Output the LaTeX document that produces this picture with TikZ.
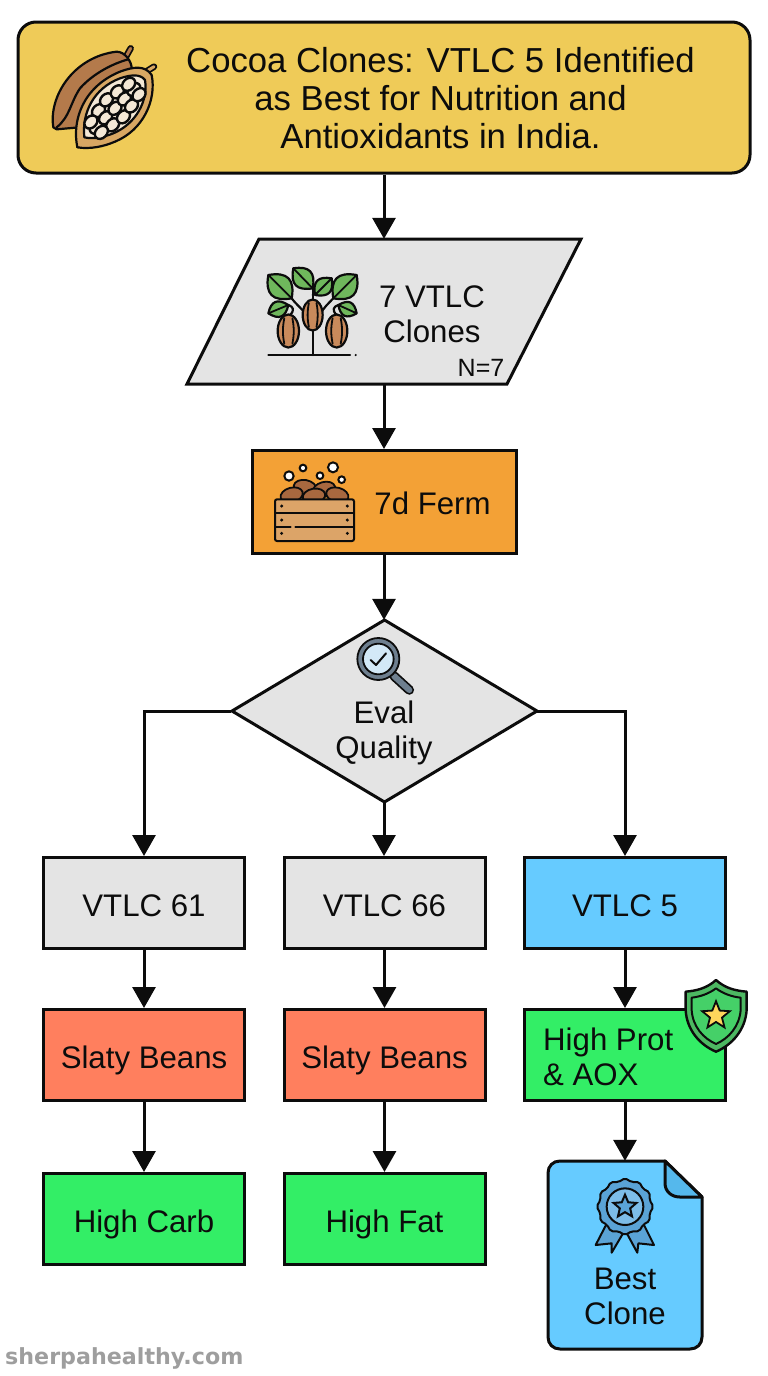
\documentclass[tikz,border=0pt]{standalone}
\usepackage{fontspec}
\setmainfont{Liberation Sans}
\newfontfamily\wmfont{DejaVu Sans}
\usetikzlibrary{arrows.meta,shapes.geometric}
\definecolor{ttl}{HTML}{EFCB58}
\definecolor{gry}{HTML}{E4E4E4}
\definecolor{org}{HTML}{F3A136}
\definecolor{blu}{HTML}{66CBFF}
\definecolor{red1}{HTML}{FF7F5E}
\definecolor{grn}{HTML}{33EE66}
\definecolor{ink}{HTML}{0C0C0C}
\definecolor{podA}{HTML}{B47A4B}
\definecolor{podB}{HTML}{D8A763}
\definecolor{crm}{HTML}{F4E8D6}
\definecolor{leafc}{HTML}{6FB75C}
\definecolor{podC}{HTML}{C98A5B}
\definecolor{crate}{HTML}{DCA468}
\definecolor{bean}{HTML}{A8683F}
\definecolor{ringc}{HTML}{6E7F8F}
\definecolor{glass}{HTML}{D3E9F7}
\definecolor{shA}{HTML}{4DB862}
\definecolor{shB}{HTML}{45D068}
\definecolor{starc}{HTML}{FFD65C}
\definecolor{badA}{HTML}{5AA3D6}
\definecolor{badB}{HTML}{7DBDE8}
\definecolor{foldc}{HTML}{55B8EC}
\tikzset{
  x=1pt,y=-1pt,
  box/.style={draw=ink,line width=3pt,rectangle,minimum width=201pt,minimum height=91pt,inner sep=0pt,text=ink,font=\fontsize{31.2}{35}\selectfont,align=center,text height=27pt,text depth=0pt},
  ghost/.style={rectangle,inner sep=0pt,text=ink,font=\fontsize{31.2}{35}\selectfont,align=center},
  flow/.style={draw=ink,line width=3pt,-{Triangle[length=21pt,width=23pt]}},
  icon/.style={draw=ink,line width=2.2pt,line join=round,line cap=round},
  thin line/.style={draw=ink,line width=1.8pt,line cap=round},
}
\newcommand{\zleaf}[4]{%
  \draw[icon,fill=leafc] (#1,#2) to[bend left=55,looseness=1.5] (#3,#4) to[bend left=55,looseness=1.5] (#1,#2);
  \draw[thin line] (#1,#2) -- (#3,#4);}
\newcommand{\zpod}[3]{%
  \draw[icon,fill=podC] (#1,#2) ellipse (#3 and 1.55*#3);
  \draw[thin line] (#1-0.38*#3,#2-1.2*#3) .. controls (#1-0.55*#3,#2-0.3*#3) and (#1-0.55*#3,#2+0.3*#3) .. (#1-0.38*#3,#2+1.2*#3);
  \draw[thin line] (#1+0.38*#3,#2-1.2*#3) .. controls (#1+0.55*#3,#2-0.3*#3) and (#1+0.55*#3,#2+0.3*#3) .. (#1+0.38*#3,#2+1.2*#3);}
\begin{document}
\begin{tikzpicture}
\useasboundingbox (0,0) rectangle (768,1376);
% title
\node[box,fill=ttl,rounded corners=18pt,minimum width=732pt,minimum height=151pt] (title) at (384,97.5) {};
\node[ghost,font=\fontsize{34.7}{38}\selectfont] (titletext) at (440.5,98.5) {Cocoa Clones: VTLC 5 Identified\\as Best for Nutrition and\\Antioxidants in India.};
% parallelogram
\node[rectangle,minimum width=394pt,minimum height=145pt,inner sep=0pt] (clones) at (384,311.5) {};
\draw[draw=ink,line width=3pt,fill=gry,line join=miter] (259,239) -- (581,239) -- (507,384) -- (187,384) -- cycle;
\node[ghost] (clonestext) at (432,314) {7 VTLC\\Clones};
\node[ghost,font=\fontsize{25}{28}\selectfont] (ntext) at (481,368) {N=7};
% ferm
\node[box,fill=org,minimum width=264pt,minimum height=103pt] (ferm) at (384.5,502) {};
\node[ghost] (fermtext) at (432.5,503) {7d Ferm};
% diamond
\node[rectangle,minimum width=305pt,minimum height=182pt,inner sep=0pt] (eval) at (384,711) {};
\draw[draw=ink,line width=3pt,fill=gry,line join=miter] (232,711) -- (384.5,620) -- (537,711) -- (384.5,802) -- cycle;
\node[ghost] (evaltext) at (384,733) {Eval\\Quality};
% row 1
\node[box,fill=gry] (v61) at (144,903) {VTLC 61};
\node[box,fill=gry] (v66) at (384.5,903) {VTLC 66};
\node[box,fill=blu] (v5) at (625,903) {VTLC 5};
% row 2
\node[box,fill=red1] (s61) at (144,1055) {Slaty Beans};
\node[box,fill=red1] (s66) at (384.5,1055) {Slaty Beans};
\node[box,fill=grn] (prot) at (625,1055) {};
\node[ghost,align=left,anchor=west] (prottext) at (543,1056.5) {High Prot\\\& AOX};
% row 3
\node[box,fill=grn] (carb) at (144,1219) {High Carb};
\node[box,fill=grn] (fat) at (384.5,1219) {High Fat};
% document
\node[rectangle,minimum width=154pt,minimum height=188pt,inner sep=0pt] (best) at (625,1255) {};
\draw[draw=ink,line width=3pt,fill=blu,line join=round] (665,1161) -- (560,1161) .. controls (553,1161) and (548,1166) .. (548,1173) -- (548,1337) .. controls (548,1344) and (553,1349) .. (560,1349) -- (690,1349) .. controls (697,1349) and (702,1344) .. (702,1337) -- (702,1197) -- cycle;
\draw[draw=ink,line width=3pt,fill=foldc,line join=round] (665,1161) -- (665,1183) .. controls (665,1192) and (672,1197) .. (680,1197) -- (702,1197) -- cycle;
\node[ghost] (besttext) at (625,1296) {Best\\Clone};
% connectors
\draw[flow] (title.south -| clones) -- (clones.north);
\draw[flow] (clones.south) -- (clones.south |- ferm.north);
\draw[flow] (clones.south |- ferm.south) -- (eval.north);
\draw[flow] (eval.south) -- (eval.south |- v66.north);
\draw[flow] (eval.west) -| (v61.north);
\draw[flow] (eval.east) -| (v5.north);
\draw[flow] (v61) -- (s61);
\draw[flow] (v66) -- (s66);
\draw[flow] (v5) -- (prot);
\draw[flow] (s61) -- (carb);
\draw[flow] (s66) -- (fat);
\draw[flow] (prot) -- (best);
% cocoa icon
\begin{scope}[shift={(20,20)},scale=1/3]
  \draw[draw=ink,line width=6.5pt,line cap=round] (318,110) -- (332,85);
  \draw[draw=podA,line width=3pt,line cap=round] (318,110) -- (332,85);
  \draw[icon,fill=podA] (100,322) .. controls (85,230) and (160,110) .. (290,95) .. controls (315,95) and (335,125) .. (335,145) -- (200,320) -- (110,328) -- cycle;
  \draw[icon] (110,322) .. controls (150,290) and (150,250) .. (180,205) .. controls (220,160) and (280,130) .. (325,118);
  \draw[draw=ink,line width=6.5pt,line cap=round] (378,155) -- (402,140);
  \draw[draw=podB,line width=3pt,line cap=round] (378,155) -- (402,140);
  \draw[icon,fill=podB] (172,382) .. controls (155,300) and (190,200) .. (300,155) .. controls (340,140) and (375,135) .. (395,165) .. controls (410,240) and (370,330) .. (285,365) .. controls (250,380) and (210,388) .. (172,382) -- cycle;
  \draw[icon,fill=crm] (193,352) .. controls (185,280) and (220,205) .. (300,175) .. controls (330,165) and (360,160) .. (375,180) .. controls (385,240) and (350,310) .. (280,340) .. controls (250,352) and (220,358) .. (193,352) -- cycle;
  \begin{scope}[shift={(285,265)},rotate=45]
    \foreach \a/\b in {-80/0,-40/-30,-40/0,-40/30,0/-36,0/0,0/36,40/-30,40/0,40/30,80/0,-80/-22,-80/22,80/-22,80/22}
      \draw[draw=ink,line width=2.4pt,fill=crm] (\a,\b) ellipse (22 and 17);
  \end{scope}
\end{scope}
% plant icon
\begin{scope}[shift={(240,240)},scale=1/3]
  \draw[icon] (218,345) -- (218,140);
  \draw[icon] (155,175) .. controls (170,195) and (185,205) .. (195,220);
  \draw[icon] (280,175) .. controls (265,190) and (250,205) .. (242,220);
  \draw[icon] (218,165) -- (235,150);
  \draw[icon] (145,195) .. controls (160,200) and (165,210) .. (150,225);
  \draw[icon] (295,195) .. controls (280,200) and (275,210) .. (290,225);
  \zleaf{218}{145}{160}{85}
  \zleaf{155}{175}{85}{105}
  \zleaf{280}{175}{350}{105}
  \zleaf{225}{165}{275}{115}
  \zleaf{85}{220}{145}{195}
  \zleaf{350}{220}{295}{195}
  \zpod{218}{225}{30}
  \zpod{145}{273}{32}
  \zpod{290}{273}{32}
  \draw[icon] (85,345) -- (330,345);
  \fill[ink] (347,345) circle (3.5);
\end{scope}
% crate icon
\begin{scope}[shift={(250,450)},scale=1/3]
  \foreach \x/\y/\r in {117/78/14,159/54/10,210/77/10,249/52/15,275/89/10}
    \draw[draw=ink,line width=2pt,fill=white] (\x,\y) circle (\r);
  \foreach \x/\y/\t in {165/112/-10,222/118/15,125/135/15,262/135/-15,192/138/10}
    \draw[draw=ink,line width=1.8pt,fill=bean,rotate around={\t:(\x,\y)}] (\x,\y) ellipse (34 and 22);
  \draw[draw=ink,line width=2pt,fill=crate,rounded corners=2pt] (75,148) rectangle (312,273);
  \draw[thin line] (75,188) -- (312,188);
  \draw[thin line] (75,230) -- (122,230);
  \draw[thin line] (136,230) -- (312,230);
  \foreach \x in {95,292} \foreach \y in {168,210,250}
    \fill[ink] (\x,\y) circle (5);
\end{scope}
% magnifier icon
\begin{scope}[shift={(250,450)},scale=1/3]
  \draw[draw=ink,line width=9.5pt,line cap=round] (432,678) -- (478,720);
  \draw[draw=ringc,line width=6pt,line cap=round] (432,678) -- (478,720);
  \draw[draw=ink,line width=1.8pt,fill=ringc] (385,627) circle (63);
  \draw[draw=ink,line width=1.8pt,fill=glass] (385,627) circle (46);
  \draw[draw=ink,line width=2pt,line cap=round,line join=round] (362,630) -- (378,645) -- (408,610);
\end{scope}
% shield icon
\begin{scope}[shift={(520,970)},scale=1/3]
  \draw[draw=ink,line width=2.4pt,fill=shA,line join=round] (588,30) .. controls (560,55) and (530,62) .. (497,65) -- (497,120) .. controls (500,180) and (540,225) .. (588,245) .. controls (636,225) and (676,180) .. (680,120) -- (680,65) .. controls (646,62) and (616,55) .. (588,30) -- cycle;
  \draw[draw=ink,line width=2pt,fill=shB,line join=round] (588,55) .. controls (565,72) and (540,80) .. (515,83) -- (515,120) .. controls (518,170) and (550,205) .. (588,222) .. controls (626,205) and (658,170) .. (662,120) -- (662,83) .. controls (636,80) and (611,72) .. (588,55) -- cycle;
  \node[star,star points=5,star point ratio=2.3,draw=ink,line width=1.8pt,fill=starc,minimum size=29pt,inner sep=0pt] (shieldstar) at (588,137) {};
\end{scope}
% badge icon
\begin{scope}[shift={(530,1150)},scale=1/3]
  \draw[draw=ink,line width=2pt,fill=badA,line join=round] (228,225) -- (197,285) -- (245,280) -- (245,308) -- (285,240) -- cycle;
  \draw[draw=ink,line width=2pt,fill=badA,line join=round] (342,225) -- (372,285) -- (325,280) -- (322,308) -- (285,240) -- cycle;
  \node[star,star points=12,star point ratio=1.12,draw=ink,line width=2pt,fill=badA,minimum size=57pt,inner sep=0pt,rounded corners=2pt] (rosette) at (285,170) {};
  \draw[draw=ink,line width=2pt,fill=badB] (285,170) circle (55);
  \node[star,star points=5,star point ratio=2.2,draw=ink,line width=2pt,fill=badA,minimum size=24pt,inner sep=0pt] (badgestar) at (285,170) {};
\end{scope}
% watermark
\node[anchor=west,inner sep=0pt,text=black!38,font=\wmfont\bfseries\fontsize{22.2}{25}\selectfont] (wm) at (5,1358) {sherpahealthy.com};
\end{tikzpicture}
\end{document}
